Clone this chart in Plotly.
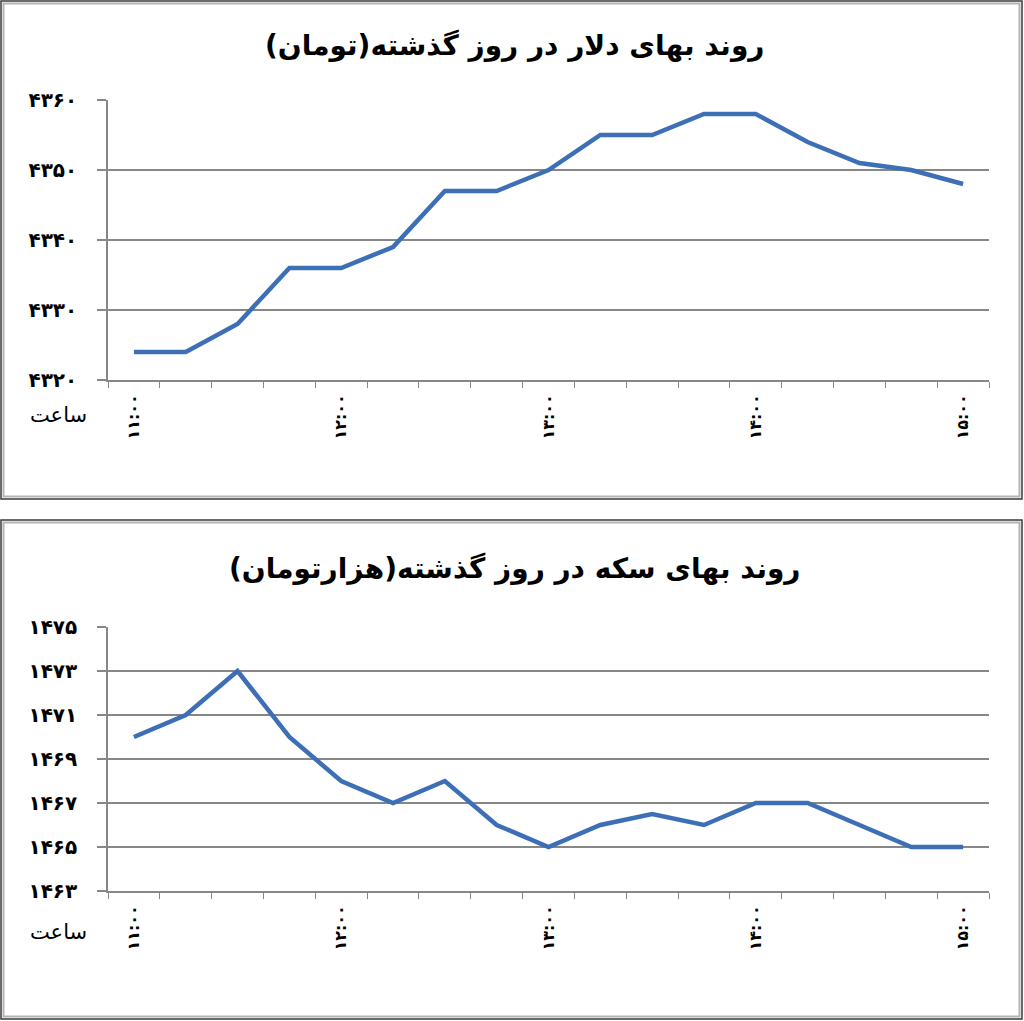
import plotly.graph_objects as go

# ---- data ----
times = ["11:00", "11:15", "11:30", "11:45", "12:00", "12:15", "12:30", "12:45",
         "13:00", "13:15", "13:30", "13:45", "14:00", "14:15", "14:30", "14:45", "15:00"]
dollar = [4324, 4324, 4328, 4336, 4336, 4339, 4347, 4347, 4350,
          4355, 4355, 4358, 4358, 4354, 4351, 4350, 4348]
coin = [1470, 1471, 1473, 1470, 1468, 1467, 1468, 1466, 1465,
        1466, 1466.5, 1466, 1467, 1467, 1466, 1465, 1465]
dollar_ticks = [4320, 4330, 4340, 4350, 4360]
coin_ticks = [1463, 1465, 1467, 1469, 1471, 1473, 1475]
label_times = ["11:00", "12:00", "13:00", "14:00", "15:00"]

title_dollar = "روند بهای دلار در روز گذشته(تومان)"
title_coin = "روند بهای سکه در روز گذشته(هزارتومان)"
hour_word = "ساعت"

FA = str.maketrans("0123456789", "۰۱۲۳۴۵۶۷۸۹")


def fa(s):
    return str(s).translate(FA)


W, H = 1024, 1021
FONT = "DejaVu Sans"
LINE = "#3D6FB6"
GRID = "#878787"


def px_x(p):
    return p / W


def px_y(p):
    return 1 - p / H


fig = go.Figure()
fig.add_trace(go.Scatter(x=times, y=dollar, mode="lines",
                         line=dict(color=LINE, width=4.5), xaxis="x", yaxis="y",
                         showlegend=False))
fig.add_trace(go.Scatter(x=times, y=coin, mode="lines",
                         line=dict(color=LINE, width=4.5), xaxis="x2", yaxis="y2",
                         showlegend=False))

xticktext = [fa(t) if t in label_times else "" for t in times]


def xaxis_cfg(anchor):
    return dict(domain=[px_x(108), px_x(989)], anchor=anchor, type="category",
                categoryorder="array", categoryarray=times,
                tickmode="array", tickvals=times, ticktext=xticktext,
                tickson="boundaries", ticks="outside", ticklen=6, tickwidth=1.2,
                tickcolor=GRID, showline=True, linecolor=GRID, linewidth=1.5,
                showgrid=False, tickangle=-90, range=[-0.5, len(times) - 0.5],
                ticklabelstandoff=6, automargin=False,
                tickfont=dict(family=FONT, size=16, color="black", weight="bold"),
                fixedrange=True)


def yaxis_cfg(anchor, top, bottom, rng, ticks):
    return dict(domain=[px_y(bottom), px_y(top)], anchor=anchor, range=rng,
                tickmode="array", tickvals=ticks, ticktext=[fa(t) for t in ticks],
                ticks="outside", ticklen=9, tickwidth=1.5, tickcolor=GRID,
                showline=True, linecolor=GRID, linewidth=1.5,
                showgrid=True, gridcolor=GRID, gridwidth=1.5, zeroline=False,
                ticklabelstandoff=16, automargin=False,
                tickfont=dict(family=FONT, size=20, color="black", weight="bold"),
                fixedrange=True)


fig.update_layout(
    width=W, height=H,
    margin=dict(l=0, r=0, t=0, b=0, pad=0, autoexpand=False),
    paper_bgcolor="white", plot_bgcolor="white",
    xaxis=xaxis_cfg("y"),
    yaxis=yaxis_cfg("x", 100, 380, [dollar_ticks[0], dollar_ticks[-1]], dollar_ticks),
    xaxis2=xaxis_cfg("y2"),
    yaxis2=yaxis_cfg("x2", 627, 891, [coin_ticks[0], coin_ticks[-1]], coin_ticks),
)

annotations = [
    dict(text="\u202b" + title_dollar + "\u202c", x=px_x(514), y=px_y(45)),
    dict(text="\u202b" + title_coin + "\u202c", x=px_x(514), y=px_y(568)),
]
for a in annotations:
    a.update(xref="paper", yref="paper", showarrow=False, xanchor="center", yanchor="middle",
             font=dict(family=FONT, size=28, color="black", weight="bold"))
for yy in (415, 932):
    annotations.append(dict(text=hour_word, x=px_x(58), y=px_y(yy), xref="paper", yref="paper",
                            showarrow=False, xanchor="center", yanchor="middle",
                            font=dict(family=FONT, size=21, color="black")))
fig.update_layout(annotations=annotations)

# panel frames
shapes = []
for (t, b) in ((1, 499), (520, 1019)):
    shapes.append(dict(type="rect", xref="paper", yref="paper",
                       x0=px_x(1), x1=px_x(1022), y0=px_y(b), y1=px_y(t),
                       line=dict(color="#3a3a3a", width=1.5)))
    shapes.append(dict(type="rect", xref="paper", yref="paper",
                       x0=px_x(3.5), x1=px_x(1019.5), y0=px_y(b - 2.5), y1=px_y(t + 2.5),
                       line=dict(color="#b4b4b4", width=2)))
fig.update_layout(shapes=shapes)

fig.write_html("out.html",
               config={"displayModeBar": False},
               post_script="document.body.style.margin='0';document.body.style.overflow='hidden';"
                           "document.documentElement.style.overflow='hidden';")
